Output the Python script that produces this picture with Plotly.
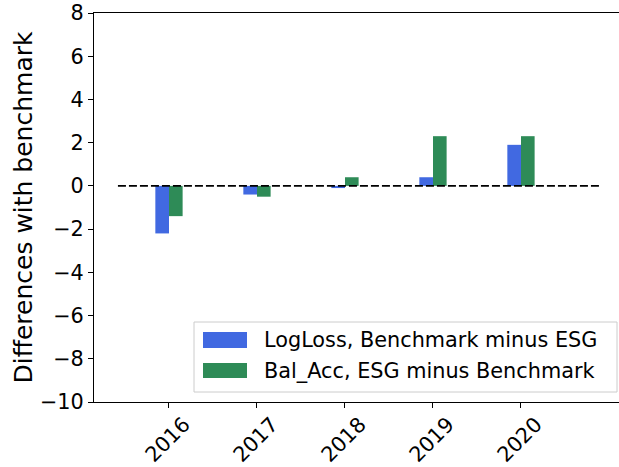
import plotly.graph_objects as go

# values
years = ["2016", "2017", "2018", "2019", "2020"]
logloss_diff = [-2.2, -0.4, -0.1, 0.4, 1.9]   # Benchmark minus ESG
balacc_diff = [-1.4, -0.5, 0.4, 2.3, 2.3]     # ESG minus Benchmark
series_names = ["LogLoss, Benchmark minus ESG", "Bal_Acc, ESG minus Benchmark"]
y_ticks = [-10, -8, -6, -4, -2, 0, 2, 4, 6, 8]

BLUE = "#4169E1"   # royalblue
GREEN = "#2E8B57"  # seagreen
FONT = "DejaVu Sans"
BAR_W = 0.155

W, H = 619, 467
L, T, B = 94, 13, 65
PW = W - L          # plot width in px
PH = H - T - B      # plot height in px
PX_PER_CAT = 88.0
X0 = -0.852


def px_x(p):
    """pixel x of the reference -> paper coordinate"""
    return (p - L) / PW


def px_y(p):
    """pixel y of the reference -> paper coordinate"""
    return (H - B - p) / PH


fig = go.Figure()
fig.add_bar(x=years, y=logloss_diff, name=series_names[0],
            width=BAR_W, offset=-BAR_W, marker=dict(color=BLUE, line=dict(width=0)))
fig.add_bar(x=years, y=balacc_diff, name=series_names[1],
            width=BAR_W, offset=0, marker=dict(color=GREEN, line=dict(width=0)))

shapes = [
    # dashed zero line
    dict(type="line", xref="x", yref="y", x0=-0.58, x1=4.92, y0=0, y1=0,
         line=dict(color="black", width=1.8, dash="8px,3px")),
    # legend frame
    dict(type="rect", xref="paper", yref="paper", x0=px_x(194), x1=px_x(617),
         y0=px_y(392), y1=px_y(322),
         fillcolor="rgba(255,255,255,0.8)", line=dict(color="#cccccc", width=1)),
    dict(type="rect", xref="paper", yref="paper", x0=px_x(203), x1=px_x(247),
         y0=px_y(348), y1=px_y(332), fillcolor=BLUE, line=dict(width=0)),
    dict(type="rect", xref="paper", yref="paper", x0=px_x(203), x1=px_x(247),
         y0=px_y(378), y1=px_y(363), fillcolor=GREEN, line=dict(width=0)),
]
annotations = [
    dict(xref="paper", yref="paper", x=px_x(262), y=px_y(340), text=series_names[0],
         showarrow=False, xanchor="left", yanchor="middle", font=dict(size=20.8)),
    dict(xref="paper", yref="paper", x=px_x(262), y=px_y(371), text=series_names[1],
         showarrow=False, xanchor="left", yanchor="middle", font=dict(size=20.8)),
]

fig.update_layout(
    width=W, height=H,
    margin=dict(l=L, r=0, t=T, b=B, autoexpand=False),
    font=dict(family=FONT, size=20.8, color="black"),
    plot_bgcolor="white", paper_bgcolor="white",
    barmode="overlay", showlegend=False,
    shapes=shapes, annotations=annotations,
    xaxis=dict(range=[X0, X0 + PW / PX_PER_CAT], showgrid=False, zeroline=False,
               automargin=False,
               showline=True, linecolor="black", linewidth=1, mirror=True,
               ticks="outside", ticklen=5, tickcolor="black",
               tickangle=-45, ticklabelshift=15, ticklabelstandoff=-4),
    yaxis=dict(range=[-10, 8], tickvals=y_ticks, showgrid=False, zeroline=False,
               automargin=False, ticklabeloverflow="allow",
               showline=True, linecolor="black", linewidth=1,
               ticks="outside", ticklen=5, tickcolor="black",
               title=dict(text="Differences with benchmark", standoff=0)),
)

# drop the default 8px body margin so the figure fills the window exactly
fig.write_html("out.html", config={"displayModeBar": False},
               post_script="document.body.style.margin='0';document.body.style.overflow='hidden';")
